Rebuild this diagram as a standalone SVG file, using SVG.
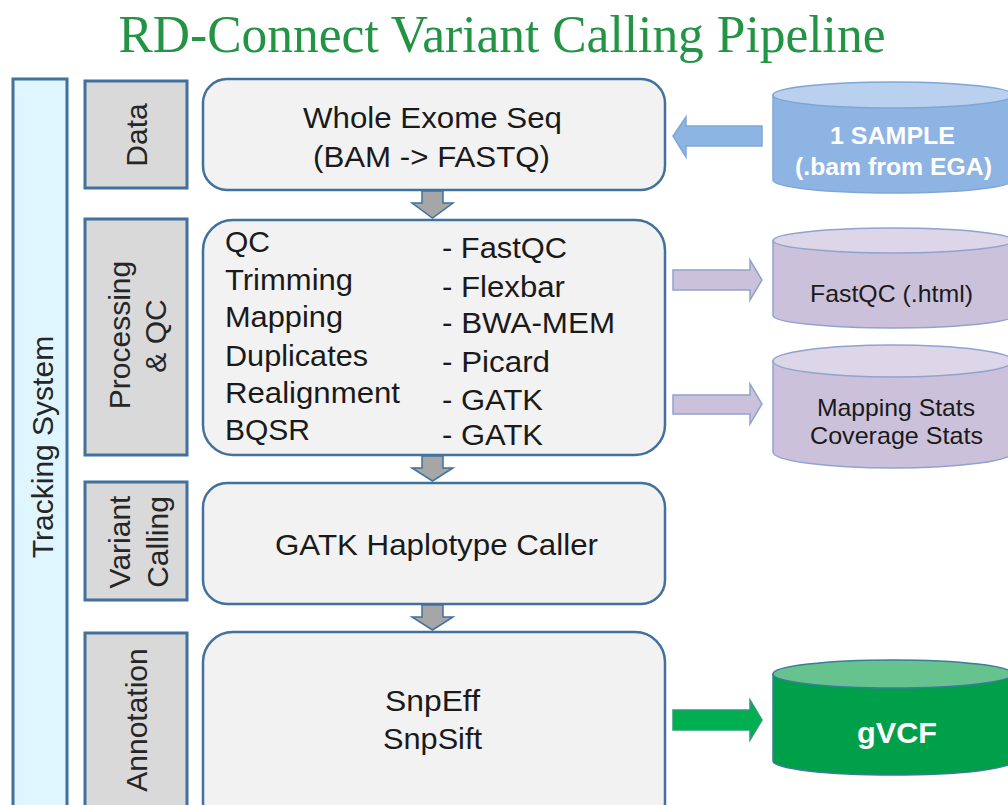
<svg xmlns="http://www.w3.org/2000/svg" width="1008" height="805" viewBox="0 0 1008 805">
<style>
.t{font-family:"Liberation Sans",Arial,sans-serif;font-size:30px;fill:#1a1a1a}
.lbl{font-family:"Liberation Sans",Arial,sans-serif;font-size:30px;fill:#262626;text-anchor:middle}
.cw{font-family:"Liberation Sans",Arial,sans-serif;font-weight:bold;fill:#ffffff}
.cd{font-family:"Liberation Sans",Arial,sans-serif;font-size:24px;fill:#1a1a1a}
.lb{fill:#d9d9d9;stroke:#41719c;stroke-width:3}
.mb{fill:#f2f2f2;stroke:#41719c;stroke-width:2.5}
.da{fill:#a6a6a6;stroke:#41719c;stroke-width:1.5}
</style>
<rect width="1008" height="805" fill="#ffffff"/>
<text x="502" y="52" font-family="'Liberation Serif','Times New Roman',serif" font-size="53" fill="#229443" text-anchor="middle" textLength="767" lengthAdjust="spacingAndGlyphs">RD-Connect Variant Calling Pipeline</text>

<g id="tracking">
<rect x="13" y="79" width="54" height="760" fill="#e0f6ff" stroke="#41719c" stroke-width="3"/>
<text class="lbl" transform="translate(53,447) rotate(-90)">Tracking System</text>
</g>

<g id="label-data">
<rect class="lb" x="85" y="81" width="102" height="107"/>
<text class="lbl" transform="translate(147,135) rotate(-90)">Data</text>
</g>
<g id="label-processing">
<rect class="lb" x="85" y="219" width="102" height="236"/>
<text class="lbl" transform="translate(130,335) rotate(-90)">Processing</text>
<text class="lbl" transform="translate(166,336) rotate(-90)">&amp; QC</text>
</g>
<g id="label-variant">
<rect class="lb" x="85" y="482" width="102" height="118"/>
<text class="lbl" transform="translate(130,542) rotate(-90)">Variant</text>
<text class="lbl" transform="translate(168,542) rotate(-90)">Calling</text>
</g>
<g id="label-annotation">
<rect class="lb" x="85" y="633" width="102" height="200"/>
<text class="lbl" transform="translate(147,720) rotate(-90)">Annotation</text>
</g>

<g id="node-wes">
<rect class="mb" x="203" y="79" width="462" height="111" rx="24"/>
<text class="t" x="303" y="128" textLength="259" lengthAdjust="spacingAndGlyphs">Whole Exome Seq</text>
<text class="t" x="313" y="167" textLength="237" lengthAdjust="spacingAndGlyphs">(BAM -&gt; FASTQ)</text>
</g>
<g id="node-processing">
<rect class="mb" x="203" y="220" width="462" height="235" rx="30"/>
<text class="t" x="225" y="252">QC</text>
<text class="t" x="225" y="290" textLength="128" lengthAdjust="spacingAndGlyphs">Trimming</text>
<text class="t" x="225" y="327" textLength="118" lengthAdjust="spacingAndGlyphs">Mapping</text>
<text class="t" x="225" y="366" textLength="143" lengthAdjust="spacingAndGlyphs">Duplicates</text>
<text class="t" x="225" y="403" textLength="175" lengthAdjust="spacingAndGlyphs">Realignment</text>
<text class="t" x="225" y="440" textLength="85" lengthAdjust="spacingAndGlyphs">BQSR</text>
<text class="t" x="442" y="258" textLength="125" lengthAdjust="spacingAndGlyphs">- FastQC</text>
<text class="t" x="442" y="297" textLength="123" lengthAdjust="spacingAndGlyphs">- Flexbar</text>
<text class="t" x="442" y="333" textLength="173" lengthAdjust="spacingAndGlyphs">- BWA-MEM</text>
<text class="t" x="442" y="372" textLength="108" lengthAdjust="spacingAndGlyphs">- Picard</text>
<text class="t" x="442" y="410" textLength="101" lengthAdjust="spacingAndGlyphs">- GATK</text>
<text class="t" x="442" y="445" textLength="101" lengthAdjust="spacingAndGlyphs">- GATK</text>
</g>
<g id="node-gatk">
<rect class="mb" x="203" y="483" width="462" height="121" rx="24"/>
<text class="t" x="275" y="555" textLength="323" lengthAdjust="spacingAndGlyphs">GATK Haplotype Caller</text>
</g>
<g id="node-annotation">
<rect class="mb" x="203" y="632" width="462" height="200" rx="30"/>
<text class="t" x="385" y="711" textLength="95" lengthAdjust="spacingAndGlyphs">SnpEff</text>
<text class="t" x="383" y="749" textLength="99" lengthAdjust="spacingAndGlyphs">SnpSift</text>
</g>

<g id="db-sample">
<path d="M773,95 V180 A120,13 0 0 0 1013,180 V95 Z" fill="#8eb4e3" stroke="#7fa6d6" stroke-width="1.5"/>
<ellipse cx="893" cy="95" rx="120" ry="13" fill="#b9d0ee" stroke="#7fa6d6" stroke-width="1.5"/>
<text class="cw" x="830" y="144" font-size="24" textLength="125" lengthAdjust="spacingAndGlyphs">1 SAMPLE</text>
<text class="cw" x="795" y="175" font-size="24" textLength="197" lengthAdjust="spacingAndGlyphs">(.bam from EGA)</text>
</g>
<g id="db-fastqc">
<path d="M773,240.5 V315.5 A120,12.5 0 0 0 1013,315.5 V240.5 Z" fill="#ccc1da" stroke="#8fa3cf" stroke-width="1.5"/>
<ellipse cx="893" cy="240.5" rx="120" ry="12.5" fill="#ddd5e8" stroke="#8fa3cf" stroke-width="1.5"/>
<text class="cd" x="810" y="302" textLength="163" lengthAdjust="spacingAndGlyphs">FastQC (.html)</text>
</g>
<g id="db-stats">
<path d="M773,361 V452 A120,16 0 0 0 1013,452 V361 Z" fill="#ccc1da" stroke="#8fa3cf" stroke-width="1.5"/>
<ellipse cx="893" cy="361" rx="120" ry="16" fill="#ddd5e8" stroke="#8fa3cf" stroke-width="1.5"/>
<text class="cd" x="817" y="416" textLength="158" lengthAdjust="spacingAndGlyphs">Mapping Stats</text>
<text class="cd" x="810" y="444" textLength="173" lengthAdjust="spacingAndGlyphs">Coverage Stats</text>
</g>
<g id="db-gvcf">
<path d="M773,674 V761 A120,14 0 0 0 1013,761 V674 Z" fill="#00a04b" stroke="#3a7c9a" stroke-width="1.5"/>
<ellipse cx="893" cy="674" rx="120" ry="14" fill="#66c38e" stroke="#3a7c9a" stroke-width="1.5"/>
<text class="cw" x="857" y="743" font-size="30" textLength="80" lengthAdjust="spacingAndGlyphs">gVCF</text>
</g>

<g id="connectors">
<path class="da" d="M422,191 H443 V203 H453 L432.5,218 L412,203 H422 Z"/>
<path class="da" d="M422,456 H443 V468 H453 L432.5,481 L412,468 H422 Z"/>
<path class="da" d="M422,605 H443 V617 H453 L432.5,630 L412,617 H422 Z"/>
<path d="M762,126 V146 H686 V157 L673,136 L686,117 V126 Z" fill="#8eb4e3" stroke="#7fa6d6" stroke-width="1.5"/>
<path d="M673,270 H750 V260 L762,280 L750,300 V290 H673 Z" fill="#ccc1da" stroke="#8fa3cf" stroke-width="1.5"/>
<path d="M673,395 H750 V384 L762,404 L750,424 V414 H673 Z" fill="#ccc1da" stroke="#8fa3cf" stroke-width="1.5"/>
<path d="M673,710 H750 V700 L762,720 L750,740 V730 H673 Z" fill="#00b050" stroke="#2e9a7a" stroke-width="1.5"/>
</g>
</svg>
